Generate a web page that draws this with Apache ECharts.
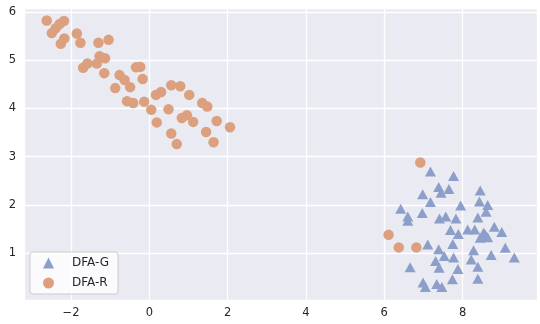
<!DOCTYPE html>
<html>
<head>
<meta charset="utf-8">
<script src="https://cdn.jsdelivr.net/npm/echarts@6/dist/echarts.min.js"></script>
<style>
 html,body{margin:0;padding:0;background:#fff;}
 #main{width:540px;height:324px;}
</style>
</head>
<body>
<div id="main"></div>
<script>
// DFA-G (triangles)
var gX = [7.18, 7.77, 7.39, 7.65, 7.45, 6.98, 8.45, 7.18, 7.95, 8.43, 8.64, 6.42, 6.60, 6.60, 6.97, 7.41, 7.57,
          7.83, 8.60, 8.39, 7.69, 7.89, 8.13, 8.31, 8.81, 9.00, 8.54, 8.45, 8.64, 8.58, 7.11, 7.75, 7.39, 7.53,
          7.31, 7.40, 7.77, 8.28, 8.22, 8.73, 9.09, 9.32, 8.39, 7.88, 6.66, 6.99, 7.05, 7.34, 7.47, 7.74, 8.39];
var gY = [2.69, 2.60, 2.37, 2.33, 2.25, 2.22, 2.30, 2.06, 1.99, 2.07, 2.00, 1.92, 1.76, 1.67, 1.83, 1.72, 1.76,
          1.72, 1.86, 1.74, 1.48, 1.40, 1.49, 1.49, 1.55, 1.44, 1.43, 1.32, 1.33, 1.38, 1.18, 1.19, 1.08, 0.94,
          0.84, 0.70, 0.91, 1.06, 0.87, 0.96, 1.11, 0.91, 0.72, 0.67, 0.71, 0.39, 0.30, 0.36, 0.30, 0.46, 0.47];
// DFA-R (circles)
var rX = [-2.62, -2.49, -2.39, -2.29, -2.18, -2.26, -2.17, -1.85, -1.76, -1.30, -1.04, -1.69, -1.58, -1.34,
          -1.27, -1.13, -1.15, -0.76, -0.63, -0.49, -0.87, -0.34, -0.23, -0.17, -0.57, -0.41, -0.13, 0.05,
          0.17, 0.30, 0.56, 0.79, 1.02, 0.49, 0.19, 0.83, 0.96, 1.12, 1.35, 1.48, 1.72, 2.06, 0.56, 0.70,
          1.45, 1.64, 6.92, 6.11, 6.37, 6.82];
var rY = [5.82, 5.56, 5.66, 5.75, 5.81, 5.34, 5.45, 5.55, 5.36, 5.36, 5.42, 4.84, 4.93, 4.93,
          5.08, 5.04, 4.73, 4.69, 4.59, 4.44, 4.42, 4.85, 4.86, 4.61, 4.15, 4.11, 4.14, 3.97,
          4.28, 4.34, 4.48, 4.46, 4.28, 3.98, 3.71, 3.80, 3.86, 3.72, 4.11, 4.04, 3.74, 3.61, 3.48, 3.26,
          3.51, 3.30, 2.88, 1.38, 1.12, 1.12];
var xTicks = [-2, 0, 2, 4, 6, 8];
var yTicks = [1, 2, 3, 4, 5, 6];

function pairs(xs, ys){
    var out = [];
    for (var i = 0; i < xs.length; i++) out.push([xs[i], ys[i]]);
    return out;
}
function tickLabel(list){
    return function(v){
        for (var i = 0; i < list.length; i++) {
            if (Math.abs(v - list[i]) < 1e-6) return String(list[i]).replace('-', '\u2212');
        }
        return '';
    };
}

var chart = echarts.init(document.getElementById('main'));
var txt = '#262626';
var option = {
    animation: false,
    textStyle: {fontFamily: 'DejaVu Sans'},
    grid: {
        left: 24, right: 3, top: 8, bottom: 24,
        show: true, backgroundColor: '#EAEAF2', borderWidth: 0
    },
    xAxis: {
        type: 'value',
        min: -3.2, max: 9.9,
        minInterval: 2, maxInterval: 2,
        axisLine: {show: false},
        axisTick: {show: false},
        splitLine: {lineStyle: {color: '#ffffff', width: 1.3}},
        axisLabel: {color: txt, fontSize: 11.5, margin: 7, formatter: tickLabel(xTicks)}
    },
    yAxis: {
        type: 'value',
        min: 0.03, max: 6.08,
        minInterval: 1, maxInterval: 1,
        axisLine: {show: false},
        axisTick: {show: false},
        splitLine: {lineStyle: {color: '#ffffff', width: 1.3}},
        axisLabel: {color: txt, fontSize: 11.5, margin: 8, formatter: tickLabel(yTicks)}
    },
    legend: {
        orient: 'vertical',
        left: 30, top: 252,
        padding: [4, 9, 4, 13],
        itemWidth: 11, itemHeight: 11, itemGap: 6,
        backgroundColor: 'rgba(255,255,255,0.8)',
        borderColor: '#cccccc', borderWidth: 1, borderRadius: 3,
        textStyle: {color: txt, fontSize: 12, lineHeight: 14, padding: [0, 0, 0, 13]},
        data: [{name: 'DFA-G', icon: 'triangle'}, {name: 'DFA-R', icon: 'circle'}]
    },
    series: [
        {
            name: 'DFA-G', type: 'scatter',
            symbol: 'triangle', symbolSize: [11, 10],
            itemStyle: {color: '#8C9FCA', opacity: 1},
            data: pairs(gX, gY)
        },
        {
            name: 'DFA-R', type: 'scatter',
            symbol: 'circle', symbolSize: 10.5,
            itemStyle: {color: '#DCA07F', opacity: 1},
            data: pairs(rX, rY)
        }
    ]
};
chart.setOption(option);
</script>
</body>
</html>
